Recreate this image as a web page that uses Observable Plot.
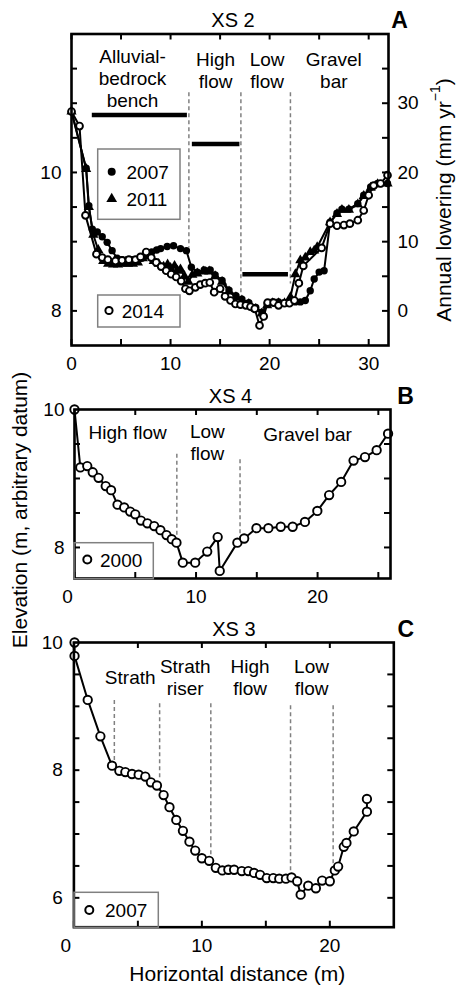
<!DOCTYPE html>
<html><head><meta charset="utf-8">
<script src="https://cdn.jsdelivr.net/npm/d3@7"></script>
<script src="https://cdn.jsdelivr.net/npm/@observablehq/plot@0.6"></script>
<style>
body{margin:0;background:#fff;}
#wrap{position:relative;width:456px;height:987px;overflow:hidden;background:#fff;}
#wrap > svg{position:absolute;left:0;}
</style></head><body><div id="wrap"></div>
<script>
// ---------- DATA ----------
// Panel A (XS 2): elevation (m) vs horizontal distance (m)
const xs2_2007 = [[0,10.88],[1.48,10.06],[1.75,9.52],[2.1,9.18],[2.6,9.14],[3.1,9.07],[3.6,8.99],[4.1,8.87],[4.6,8.76],[5.1,8.74],[5.6,8.74],[6.1,8.74],[6.6,8.74],[7.1,8.76],[7.6,8.80],[8.1,8.85],[8.6,8.88],[9.0,8.90],[9.66,8.93],[10.3,8.94],[11.0,8.90],[11.6,8.87],[12.1,8.63],[12.7,8.56],[13.4,8.59],[14.0,8.59],[14.5,8.52],[15.2,8.44],[15.9,8.30],[16.6,8.22],[17.2,8.17],[17.9,8.12],[18.6,8.05],[19.25,7.98],[19.75,8.10],[20.3,8.13],[20.9,8.13],[21.5,8.12],[22.0,8.12],[22.6,8.13],[23.1,8.13],[23.6,8.15],[24.1,8.29],[24.5,8.46],[25.0,8.56],[25.5,8.58],[26.1,9.28],[26.8,9.41],[27.3,9.47],[28.0,9.47],[28.9,9.55],[29.5,9.67],[30.2,9.79],[30.9,9.84],[31.9,9.84]];
const xs2_2011 = [[0,10.88],[1.48,10.05],[1.75,9.50],[2.2,9.10],[2.7,8.88],[3.2,8.72],[3.7,8.68],[4.2,8.67],[4.7,8.67],[5.2,8.68],[5.7,8.68],[6.2,8.68],[6.7,8.70],[7.2,8.76],[7.7,8.80],[8.3,8.72],[8.8,8.68],[9.3,8.64],[9.7,8.67],[10.0,8.62],[10.4,8.65],[10.7,8.58],[11.0,8.60],[11.4,8.50],[11.8,8.42],[12.2,8.52],[12.7,8.54],[13.3,8.57],[13.9,8.57],[14.5,8.50],[15.2,8.42],[15.9,8.28],[16.6,8.20],[17.2,8.15],[17.9,8.10],[18.6,8.03],[19.2,7.96],[19.75,8.08],[20.3,8.11],[20.9,8.11],[21.5,8.11],[22.1,8.20],[22.6,8.53],[23.1,8.73],[23.6,8.77],[24.1,8.85],[24.5,8.87],[24.8,8.92],[26.1,9.28],[26.8,9.40],[27.3,9.46],[28.0,9.46],[28.9,9.54],[29.5,9.66],[30.2,9.78],[30.9,9.83],[31.9,9.84]];
const xs2_2014 = [[0,10.88],[0.81,10.67],[1.41,9.38],[2.52,8.82],[3.1,8.77],[3.67,8.74],[4.44,8.72],[5.1,8.73],[5.79,8.74],[6.46,8.74],[6.97,8.78],[7.54,8.85],[8.05,8.77],[8.55,8.70],[9.05,8.64],[9.56,8.58],[10.06,8.53],[10.57,8.49],[11.07,8.43],[11.5,8.32],[11.9,8.29],[12.5,8.34],[13.0,8.38],[13.5,8.40],[13.96,8.41],[14.4,8.27],[15.0,8.32],[15.5,8.21],[16.05,8.15],[16.55,8.10],[17.06,8.09],[17.6,8.08],[18.07,8.06],[18.5,8.03],[18.98,7.79],[19.4,7.92],[19.8,8.12],[20.4,8.12],[20.9,8.08],[21.5,8.11],[22.0,8.11],[22.5,8.15],[22.95,8.40],[23.4,8.65],[25.25,8.91],[26.1,9.26],[26.8,9.23],[27.5,9.24],[28.1,9.26],[28.9,9.31],[29.5,9.45],[30.0,9.67],[30.5,9.81],[31.2,9.84],[31.9,9.96]];
// Annual lowering bars (mm/yr) per zone
const lowerA = [{x1:2.1,x2:11.7,v:28.3},{x1:12.2,x2:17.0,v:24.1},{x1:17.3,x2:21.9,v:5.3}];
const zonesA = [{x:6.16,y:11.36,t:"Alluvial-\nbedrock\nbench"},{x:14.54,y:11.48,t:"High\nflow"},{x:19.75,y:11.48,t:"Low\nflow"},{x:26.48,y:11.48,t:"Gravel\nbar"}];
const dashA = [{x:11.85,y1:11.15,y2:8.91},{x:17.1,y1:11.15,y2:8.25},{x:22.1,y1:11.15,y2:8.39}];

// Panel B (XS 4), 2000 survey
const xs4_2000 = [[0,10.0],[0.48,9.16],[1.05,9.18],[1.5,9.09],[1.98,9.01],[2.57,8.89],[3.01,8.83],[3.54,8.62],[4.09,8.58],[4.58,8.52],[5.0,8.48],[5.47,8.39],[6.0,8.35],[6.56,8.31],[7.07,8.25],[7.57,8.18],[8.0,8.12],[8.39,8.07],[8.91,7.78],[9.93,7.78],[10.92,7.94],[11.78,8.15],[11.95,7.66],[13.4,8.07],[13.96,8.13],[14.97,8.28],[15.95,8.28],[16.97,8.30],[17.95,8.30],[18.96,8.37],[19.98,8.53],[20.95,8.76],[21.94,8.95],[22.96,9.26],[23.9,9.31],[24.86,9.41],[25.8,9.65]];
const zonesB = [{x:4.37,y:9.68,t:"High flow"},{x:10.93,y:9.53,t:"Low\nflow"},{x:19.17,y:9.65,t:"Gravel bar"}];
const dashB = [{x:8.42,y1:9.35,y2:8.13},{x:13.62,y1:9.27,y2:8.12}];

// Panel C (XS 3), 2007 survey
const xs3_2007 = [[0.05,10.0],[0.05,9.79],[1.08,9.10],[2.07,8.53],[2.98,8.07],[3.55,7.99],[4.02,7.97],[4.54,7.94],[5.06,7.93],[5.58,7.90],[6.02,7.81],[6.49,7.76],[7.01,7.61],[7.47,7.42],[8.0,7.22],[8.52,7.05],[9.03,6.88],[9.48,6.74],[10.0,6.62],[10.57,6.58],[11.09,6.47],[11.6,6.43],[12.07,6.44],[12.52,6.44],[13.12,6.42],[13.63,6.42],[14.08,6.39],[14.55,6.36],[15.07,6.31],[15.58,6.31],[16.05,6.30],[16.57,6.30],[17.01,6.32],[17.45,6.26],[17.72,6.05],[18.31,6.19],[18.91,6.15],[19.4,6.27],[20.0,6.26],[20.39,6.43],[20.65,6.49],[21.09,6.80],[21.3,6.86],[21.87,7.04],[22.9,7.35],[22.9,7.55]];
const zonesC = [{x:4.4,y:9.46,t:"Strath"},{x:8.7,y:9.46,t:"Strath\nriser"},{x:13.77,y:9.46,t:"High\nflow"},{x:18.57,y:9.46,t:"Low\nflow"}];
const dashC = [{x:3.16,y1:9.09,y2:8.12},{x:6.70,y1:9.04,y2:7.84},{x:10.7,y1:9.04,y2:6.66},{x:16.93,y1:9.01,y2:6.36},{x:20.26,y1:9.01,y2:6.46}];

// Tick values
const ticksX_A = [0,5,10,15,20,25,30], labelsX_A = [0,10,20,30];
const ticksY_A = [8,8.5,9,9.5,10,10.5,11,11.5], labelsY_A = [8,10];
const labelsRight_A = [8,9,10,11]; // positions on elevation scale for 0,10,20,30 mm/yr
const ticksX_B = [0,5,10,15,20,25], labelsX_B = [10,20];
const ticksY_B = [8,8.5,9,9.5], labelsY_B = [8,10];
const ticksX_C = [0,5,10,15,20], labelsX_C = [10,20];
const ticksY_C = [6,6.5,7,7.5,8,8.5,9,9.5], labelsY_C = [6,8,10];

// lowering (mm/yr) -> elevation scale position (0 mm/yr at 8 m, 10 mm/yr per m)
const lowToElev = v => 8 + v / 10;
const elevToLow = e => String(Math.round((e - 8) * 10));
const intFmt = d => String(d);

// ---------- DRAW ----------
const FONT = '"Liberation Sans", Arial, Helvetica, sans-serif';
const wrap = document.getElementById("wrap");
const X = d => d[0], Y = d => d[1];

function panel(o) {
  const fh = o.height - o.mT - o.mB;
  const fw = 456 - o.mL - o.mR;
  const tk = 6;
  const svg = Plot.plot({
    width: 456, height: o.height,
    marginLeft: o.mL, marginRight: o.mR, marginTop: o.mT, marginBottom: o.mB,
    x: {domain: o.xDomain}, y: {domain: o.yDomain},
    style: {fontFamily: FONT, fontSize: "19px", color: "#000", background: "transparent", overflow: "visible"},
    marks: [
      ...o.marks,
      Plot.tickX(o.xTicks, {x: d => d, insetTop: fh - tk, strokeWidth: 2}),
      Plot.tickX(o.xTicks, {x: d => d, insetBottom: fh - tk, strokeWidth: 2}),
      Plot.tickY(o.yTicks, {y: d => d, insetRight: fw - tk, strokeWidth: 2}),
      Plot.tickY(o.yTicks, {y: d => d, insetLeft: fw - tk, strokeWidth: 2}),
      Plot.axisX(o.xLabels, {tickSize: 0, tickPadding: 11, label: null, fontSize: 19, tickFormat: intFmt}),
      ...(o.zeroDx != null ? [Plot.axisX([0], {tickSize: 0, tickPadding: 11, label: null, fontSize: 19, tickFormat: intFmt, dx: o.zeroDx})] : []),
      Plot.axisY(o.yLabels, {tickSize: 0, tickPadding: o.yPad || 10, label: null, fontSize: 19, tickFormat: intFmt}),
      ...(o.extraAxes || []),
      Plot.frame({strokeWidth: 2.6}),
      Plot.text([o.title], {frameAnchor: "top", dx: o.tdx || 0, dy: -13, fontSize: 20, lineAnchor: "middle"}),
      Plot.text([o.letter], {frameAnchor: "top-right", dx: o.ldx, dy: -13, fontSize: 23, fontWeight: "bold", textAnchor: "middle", lineAnchor: "middle"})
    ]
  });
  svg.style.top = o.top + "px";
  wrap.appendChild(svg);
}

const openDot = (data, r) => Plot.dot(data, {x: X, y: Y, r, fill: "white", stroke: "black", strokeWidth: 1.9});
const zoneText = z => Plot.text(z, {x: "x", y: "y", text: "t", fontSize: 19, lineHeight: 1.15, lineAnchor: "middle"});
const dashes = d => Plot.ruleX(d, {x: "x", y1: "y1", y2: "y2", stroke: "#808080", strokeWidth: 1.5, strokeDasharray: "4,3"});

panel({
  top: 0, height: 372, mL: 71, mR: 68, mT: 33.5, mB: 27,
  xDomain: [0, 32], yDomain: [7.5, 12],
  xTicks: ticksX_A, xLabels: labelsX_A, yTicks: ticksY_A, yLabels: labelsY_A,
  title: "XS 2", tdx: 3, letter: "A", ldx: 11,
  extraAxes: [Plot.axisY(labelsRight_A, {anchor: "right", tickSize: 0, tickPadding: 9, tickFormat: elevToLow, label: null, fontSize: 19})],
  marks: [
    dashes(dashA),
    zoneText(zonesA),
    Plot.ruleY(lowerA, {y: d => lowToElev(d.v), x1: "x1", x2: "x2", strokeWidth: 4.5}),
    Plot.line(xs2_2011, {x: X, y: Y, strokeWidth: 2}),
    Plot.dot(xs2_2011, {x: X, y: Y, symbol: "triangle", r: 3.8, fill: "black"}),
    Plot.line(xs2_2007, {x: X, y: Y, strokeWidth: 2}),
    Plot.dot(xs2_2007, {x: X, y: Y, r: 3.7, fill: "black"}),
    Plot.line(xs2_2014, {x: X, y: Y, strokeWidth: 2}),
    openDot(xs2_2014, 3.4)
  ]
});

panel({
  top: 380, height: 230, mL: 74, mR: 66, mT: 29, mB: 32,
  xDomain: [0, 26], yDomain: [7.55, 10],
  xTicks: ticksX_B, xLabels: labelsX_B, yTicks: ticksY_B, yLabels: labelsY_B, zeroDx: -7,
  title: "XS 4", tdx: -2, letter: "B", ldx: 15,
  marks: [
    dashes(dashB),
    zoneText(zonesB),
    Plot.line(xs4_2000, {x: X, y: Y, strokeWidth: 2}),
    openDot(xs4_2000, 4.2)
  ]
});

panel({
  top: 610, height: 350, mL: 73.4, mR: 62.7, mT: 32, mB: 33.3,
  xDomain: [0, 25], yDomain: [5.54, 10],
  xTicks: ticksX_C, xLabels: labelsX_C, yTicks: ticksY_C, yLabels: labelsY_C, yPad: 11, zeroDx: -8,
  title: "XS 3", letter: "C", ldx: 12,
  marks: [
    dashes(dashC),
    zoneText(zonesC),
    Plot.line(xs3_2007, {x: X, y: Y, strokeWidth: 2}),
    openDot(xs3_2007, 4.2)
  ]
});

// ---------- Overlay: legends and axis titles ----------
const ov = d3.select(wrap).append("svg")
  .attr("width", 456).attr("height", 987)
  .style("top", "0px").style("pointer-events", "none")
  .style("font-family", FONT);

function box(x, y, w, h) {
  ov.append("rect").attr("x", x).attr("y", y).attr("width", w).attr("height", h)
    .attr("fill", "none").attr("stroke", "#808080").attr("stroke-width", 1.5);
}
function label(x, y, t, size = 19) {
  ov.append("text").attr("x", x).attr("y", y).attr("dominant-baseline", "central")
    .attr("font-size", size).text(t);
}
function openC(x, y, r) {
  ov.append("circle").attr("cx", x).attr("cy", y).attr("r", r).attr("fill", "white").attr("stroke", "black").attr("stroke-width", 2);
}
// A legends
box(97.7, 149, 82.3, 70.3);
ov.append("circle").attr("cx", 111.7).attr("cy", 171.7).attr("r", 4).attr("fill", "black");
label(126.5, 172, "2007");
ov.append("path").attr("d", d3.symbol(d3.symbolTriangle, 50)()).attr("transform", "translate(111.7,199)").attr("fill", "black");
label(126.5, 199, "2011");
box(97.7, 295, 82.3, 32);
openC(109, 310.5, 3.6);
label(121.7, 311, "2014");
// B legend
box(74, 542.7, 79.3, 36);
openC(87.3, 559.5, 4);
label(100, 560, "2000");
// C legend
box(74, 892.3, 84.3, 35);
openC(89.3, 910, 4);
label(105, 910.5, "2007");

// Axis titles
ov.append("text").attr("x", 237.3).attr("y", 973).attr("text-anchor", "middle")
  .attr("dominant-baseline", "central").attr("font-size", 21).text("Horizontal distance (m)");
ov.append("text").attr("transform", "translate(19,510) rotate(-90)").attr("text-anchor", "middle")
  .attr("dominant-baseline", "central").attr("font-size", 21).text("Elevation (m, arbitrary datum)");
const al = ov.append("text").attr("transform", "translate(443,200) rotate(-90)").attr("text-anchor", "middle")
  .attr("dominant-baseline", "central").attr("font-size", 21);
al.append("tspan").text("Annual lowering (mm yr");
al.append("tspan").attr("font-size", 14).attr("dy", -8).text("−1");
al.append("tspan").attr("dy", 8).text(")");
</script></body></html>
